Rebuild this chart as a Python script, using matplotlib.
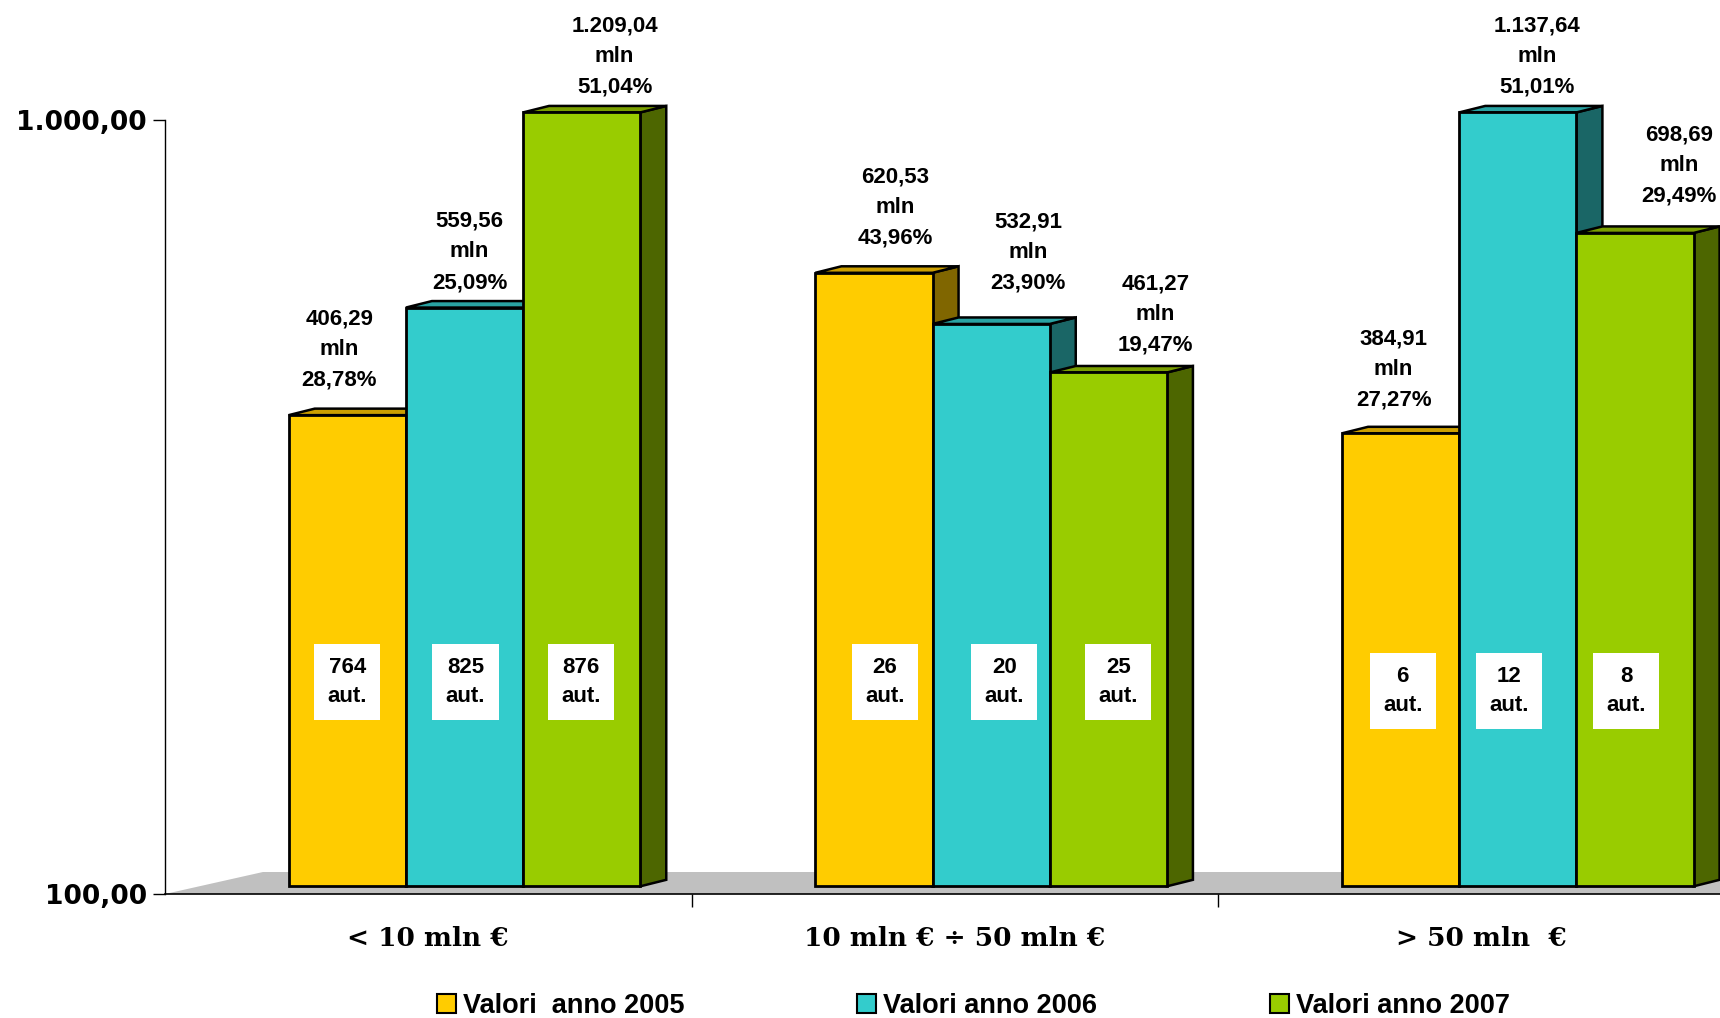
import matplotlib
matplotlib.use("Agg")
import matplotlib.pyplot as plt
import numpy as np
from matplotlib.patches import Patch, Polygon
from matplotlib.ticker import FixedLocator, NullFormatter, NullLocator, FuncFormatter
from matplotlib.transforms import IdentityTransform, offset_copy

# ── DATA ──
CATEGORIES = ["< 10 mln €", "10 mln € ÷ 50 mln €", "> 50 mln  €"]
SERIES = ["Valori  anno 2005", "Valori anno 2006", "Valori anno 2007"]

VAL_2005 = [406.29, 620.53, 384.91]
VAL_2006 = [559.56, 532.91, 1137.64]
VAL_2007 = [1209.04, 461.27, 698.69]

PCT_2005 = ["28,78%", "43,96%", "27,27%"]
PCT_2006 = ["25,09%", "23,90%", "51,01%"]
PCT_2007 = ["51,04%", "19,47%", "29,49%"]

AUT_2005 = [764, 26, 6]
AUT_2006 = [825, 20, 12]
AUT_2007 = [876, 25, 8]

Y_TICKS = [100, 1000]

# ── STYLE ──
COLORS = ["#FFCC00", "#33CCCC", "#99CC00"]
SIDE_COLORS = ["#806600", "#1A6666", "#4D6600"]
TOP_COLORS = ["#CC9F00", "#29A3A3", "#7A9F00"]
FLOOR_COLOR = "#C0C0C0"

BAR_START = 0.235      # first bar offset inside a category
BAR_W = 0.2225         # bar width in category units
LIFT = 7.7             # front plane of bars above the axis plane (px)
DEPTH = (26, 6.5)      # 3d depth of bars (px)
FLOOR_DEPTH = (98, 22)

# per-bar nudges of the value labels (px), Excel places them a bit irregularly
LABEL_DX = [[-8, 5, 33], [21, 37, 47], [-7, 19, 44]]
LABEL_GAP = [[18, 8, 8], [18, 24, 10], [16, 8, 20]]
AUT_DX = [[0, 1, -1], [11, 13, 10], [2, -9, -9]]
AUT_Y = [188, 188, 183]

LABEL_FONT = "Liberation Sans"
YTICK_FONT = "DejaVu Sans"
XTICK_FONT = "DejaVu Serif"


def it_num(v):
    s = f"{v:,.2f}"
    return s.replace(",", "X").replace(".", ",").replace("X", ".")


values = [VAL_2005, VAL_2006, VAL_2007]
pcts = [PCT_2005, PCT_2006, PCT_2007]
auts = [AUT_2005, AUT_2006, AUT_2007]

fig = plt.figure(figsize=(17.2, 10.18), dpi=100)
ax = fig.add_axes([0.0959, 0.1218, 0.9186, 0.882 - 0.1218])
ax.set_yscale("log")
ax.set_xlim(0, len(CATEGORIES))
ax.set_ylim(Y_TICKS[0], Y_TICKS[-1])
ax.set_autoscale_on(False)

for s in ["top", "right"]:
    ax.spines[s].set_visible(False)
ax.spines["left"].set_linewidth(1)
ax.spines["bottom"].set_linewidth(1.2)

# y axis
ax.yaxis.set_major_locator(FixedLocator(Y_TICKS))
ax.yaxis.set_minor_locator(NullLocator())
ax.yaxis.set_major_formatter(FuncFormatter(lambda v, p: it_num(v)))
ax.tick_params(axis="y", length=9, width=1, pad=4, labelsize=19)
for lab in ax.get_yticklabels():
    lab.set_fontfamily(YTICK_FONT)
    lab.set_fontweight("bold")

# x axis: ticks on the category borders, labels in the middle
ax.xaxis.set_major_locator(FixedLocator(np.arange(1, len(CATEGORIES))))
ax.xaxis.set_major_formatter(NullFormatter())
ax.xaxis.set_minor_locator(FixedLocator(np.arange(len(CATEGORIES)) + 0.5))
ax.set_xticklabels(CATEGORIES, minor=True)
ax.tick_params(axis="x", which="major", length=9, width=1)
ax.tick_params(axis="x", which="minor", length=0, pad=23, labelsize=19)
for lab in ax.get_xticklabels(minor=True):
    lab.set_fontfamily(XTICK_FONT)
    lab.set_fontweight("bold")

pix = IdentityTransform()

# floor
p0 = ax.transData.transform((0, Y_TICKS[0]))
p1 = ax.transData.transform((len(CATEGORIES) + 0.2, Y_TICKS[0]))
fd = np.array(FLOOR_DEPTH)
ax.add_artist(Polygon([p0, p1, p1 + fd, p0 + fd], closed=True, transform=pix,
                      facecolor=FLOOR_COLOR, edgecolor="none", zorder=1, clip_on=False))

front = offset_copy(ax.transData, fig=fig, x=0, y=LIFT, units="dots")
lift = np.array([0, LIFT])
d = np.array(DEPTH)
ymax = Y_TICKS[-1]

k = 0
for g in range(len(CATEGORIES)):
    for j in range(len(SERIES)):
        v = values[j][g]
        h = min(v, ymax)
        x0 = g + BAR_START + j * BAR_W
        x1 = x0 + BAR_W
        z = 3 + k * 0.1
        b0 = ax.transData.transform((x1, Y_TICKS[0])) + lift
        t0 = ax.transData.transform((x0, h)) + lift
        t1 = ax.transData.transform((x1, h)) + lift
        ax.add_artist(Polygon([b0, t1, t1 + d, b0 + d], closed=True, transform=pix,
                              facecolor=SIDE_COLORS[j], edgecolor="black", lw=1.8,
                              joinstyle="miter", zorder=z, clip_on=False))
        ax.add_artist(Polygon([t0, t1, t1 + d, t0 + d], closed=True, transform=pix,
                              facecolor=TOP_COLORS[j], edgecolor="black", lw=1.8,
                              joinstyle="miter", zorder=z, clip_on=False))
        ax.bar(x0, h - Y_TICKS[0], bottom=Y_TICKS[0], width=BAR_W, align="edge",
               color=COLORS[j], edgecolor="black", linewidth=2,
               transform=front, clip_on=False, zorder=z + 0.05)

        xc = x0 + BAR_W / 2
        ax.annotate(f"{it_num(v)}\nmln\n{pcts[j][g]}", xy=(xc, h),
                    xytext=(LABEL_DX[g][j] * 0.72, (LIFT + DEPTH[1] + LABEL_GAP[g][j]) * 0.72),
                    textcoords="offset points", ha="center", va="bottom",
                    multialignment="center", linespacing=1.6, fontsize=16,
                    fontweight="bold", family=LABEL_FONT, annotation_clip=False,
                    zorder=10)
        ax.annotate(f"{auts[j][g]}\naut.", xy=(xc, AUT_Y[g]),
                    xytext=(AUT_DX[g][j] * 0.72, 0), textcoords="offset points",
                    ha="center", va="center", multialignment="center",
                    linespacing=1.5, fontsize=16, fontweight="bold", family=LABEL_FONT,
                    zorder=10, annotation_clip=False,
                    bbox=dict(boxstyle="square,pad=0.6", fc="white", ec="none"))
        k += 1

handles = [Patch(facecolor=c, edgecolor="black", linewidth=1.5) for c in COLORS]
fig.legend(handles, SERIES, loc="center", bbox_to_anchor=(0.566, 0.012), ncol=3,
           frameon=False, prop=dict(family=LABEL_FONT, weight="bold", size=19.5),
           handlelength=0.7, handleheight=0.7, handletextpad=0.25, columnspacing=6.4)

fig.savefig("out.png", dpi=100)
plt.close(fig)
